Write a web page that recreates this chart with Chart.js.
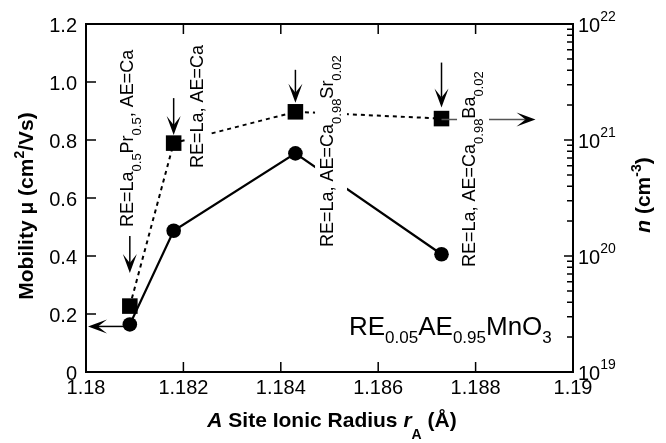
<!DOCTYPE html>
<html>
<head>
<meta charset="utf-8">
<script src="https://cdn.jsdelivr.net/npm/chart.js@4"></script>
<style>
  html, body { margin: 0; padding: 0; background: #fff; }
  #wrap { width: 666px; height: 443px; }
</style>
</head>
<body>
<div id="wrap"><canvas id="chart" width="666" height="443"></canvas></div>
<script>
// values
const radius = [1.1809, 1.1818, 1.1843, 1.1873];       // r_A (Å)
const mobility = [0.164, 0.487, 0.754, 0.406];         // cm2/Vs, left axis
const carriers = [3.7e19, 9.4e20, 1.75e21, 1.53e21];   // cm^-3, right axis (log)

// tick labels
const xTicks = [1.18, 1.182, 1.184, 1.186, 1.188, 1.19];
const xTickLabels = ['1.18', '1.182', '1.184', '1.186', '1.188', '1.19'];
const muTicks = [0, 0.2, 0.4, 0.6, 0.8, 1.0, 1.2];
const muTickLabels = ['0', '0.2', '0.4', '0.6', '0.8', '1.0', '1.2'];
const nDecades = [19, 20, 21, 22];

const FONT = '"Liberation Sans", Arial, Helvetica, sans-serif';

// text with sub/superscripts, optionally rotated, optionally on a white box
function drawRich(ctx, runs, x, y, o) {
  const fontOf = r => (r.s || o.style || '') + ' ' + (r.k ? o.small : o.size) + 'px ' + FONT;
  ctx.save();
  ctx.translate(x, y);
  if (o.rot) ctx.rotate(o.rot);
  ctx.textAlign = 'left';
  ctx.textBaseline = 'alphabetic';
  let w = 0;
  runs.forEach(r => { ctx.font = fontOf(r); w += ctx.measureText(r.t).width; });
  let cx = o.align === 'center' ? -w / 2 : (o.align === 'right' ? -w : 0);
  if (o.bg) {
    const top = o.size * 0.72 + 5;
    const bottom = runs.some(r => r.k === 'sub') ? o.sub + 6 : 7;
    ctx.fillStyle = '#fff';
    ctx.fillRect(cx - 3, -top, w + 6, top + bottom);
    ctx.fillStyle = '#000';
  }
  runs.forEach(r => {
    ctx.font = fontOf(r);
    const dy = r.k === 'sub' ? o.sub : (r.k === 'sup' ? -o.sup : 0);
    ctx.fillText(r.t, cx, dy);
    cx += ctx.measureText(r.t).width;
  });
  ctx.restore();
}

function arrow(ctx, x1, y1, x2, y2, lineColor) {
  const ang = Math.atan2(y2 - y1, x2 - x1);
  const c = Math.cos(ang), s = Math.sin(ang);
  const L = 19, W = 7, N = 10;
  ctx.save();
  ctx.strokeStyle = lineColor || '#000';
  ctx.lineWidth = 1.5;
  ctx.beginPath();
  ctx.moveTo(x1, y1);
  ctx.lineTo(x2 - c * N, y2 - s * N);
  ctx.stroke();
  ctx.fillStyle = '#000';
  ctx.beginPath();
  ctx.moveTo(x2, y2);
  ctx.lineTo(x2 - c * L - s * W, y2 - s * L + c * W);
  ctx.lineTo(x2 - c * N, y2 - s * N);
  ctx.lineTo(x2 - c * L + s * W, y2 - s * L - c * W);
  ctx.closePath();
  ctx.fill();
  ctx.restore();
}

// arrows pointing at the squares (pixel offsets above each point)
const downArrows = [
  { i: 0, tail: 70, tip: 33 },
  { i: 1, tail: 45, tip: 8 },
  { i: 2, tail: 42, tip: 9 },
  { i: 3, tail: 56, tip: 11 }
];

const sub = (t) => ({ t: t, k: 'sub' });
const sup = (t) => ({ t: t, k: 'sup' });
const labels = [
  { x: 133, y: 227, runs: [{ t: 'RE=La' }, sub('0.5'), { t: 'Pr' }, sub('0.5'), { t: ', AE=Ca' }] },
  { x: 203, y: 168, runs: [{ t: 'RE=La, AE=Ca' }] },
  { x: 333, y: 247, runs: [{ t: 'RE=La, AE=Ca' }, sub('0.98'), { t: 'Sr' }, sub('0.02')] },
  { x: 475, y: 267, runs: [{ t: 'RE=La, AE=Ca' }, sub('0.98'), { t: 'Ba' }, sub('0.02')] }
];

const decorations = {
  id: 'decorations',
  afterDatasetsDraw(chart) {
    const { ctx, chartArea: a, scales } = chart;
    const sx = scales.x, yl = scales.y, yr = scales.y1;
    const nMeta = chart.getDatasetMeta(1).data;
    const mMeta = chart.getDatasetMeta(0).data;
    ctx.save();
    ctx.strokeStyle = '#000';
    ctx.fillStyle = '#000';

    // right arrow: carrier density -> right axis (label box breaks it)
    const p4 = nMeta[3];
    arrow(ctx, p4.x, p4.y + 1, p4.x + 94, p4.y + 1, '#555');

    // rotated sample labels on white boxes
    labels.forEach(l => drawRich(ctx, l.runs, l.x, l.y,
      { size: 18, small: 13, sub: 8, rot: -Math.PI / 2, bg: true }));

    // frame
    ctx.lineWidth = 2;
    ctx.strokeRect(a.left, a.top, a.right - a.left, a.bottom - a.top);

    // inward ticks
    ctx.lineWidth = 1.5;
    ctx.beginPath();
    xTicks.forEach(v => {
      const px = sx.getPixelForValue(v);
      ctx.moveTo(px, a.bottom); ctx.lineTo(px, a.bottom - 10);
      ctx.moveTo(px, a.top); ctx.lineTo(px, a.top + 10);
    });
    muTicks.forEach(v => {
      const py = yl.getPixelForValue(v);
      ctx.moveTo(a.left, py); ctx.lineTo(a.left + 10, py);
    });
    nDecades.forEach((d, i) => {
      const py = yr.getPixelForValue(Math.pow(10, d));
      ctx.moveTo(a.right, py); ctx.lineTo(a.right - 9, py);
      if (i < nDecades.length - 1) {
        for (let k = 2; k <= 9; k++) {
          const pm = yr.getPixelForValue(k * Math.pow(10, d));
          ctx.moveTo(a.right, pm); ctx.lineTo(a.right - 6, pm);
        }
      }
    });
    ctx.stroke();

    // tick labels
    ctx.font = '20px ' + FONT;
    ctx.textBaseline = 'alphabetic';
    ctx.textAlign = 'center';
    xTicks.forEach((v, i) => ctx.fillText(xTickLabels[i], sx.getPixelForValue(v), a.bottom + 22));
    ctx.textAlign = 'right';
    muTicks.forEach((v, i) => ctx.fillText(muTickLabels[i], a.left - 9, yl.getPixelForValue(v) + 7.5));
    nDecades.forEach(d => {
      drawRich(ctx, [{ t: '10' }, sup(String(d))], a.right + 5, yr.getPixelForValue(Math.pow(10, d)) + 8,
        { size: 20, small: 14, sup: 11 });
    });

    // axis titles
    drawRich(ctx, [{ t: 'Mobility μ (cm' }, sup('2'), { t: '/Vs)' }], 33, 206,
      { size: 21, small: 14, sup: 9, style: 'bold', rot: -Math.PI / 2, align: 'center' });
    drawRich(ctx, [{ t: 'n', s: 'italic bold' }, { t: ' (cm' }, sup('-3'), { t: ')' }], 650, 195,
      { size: 21, small: 14, sup: 9, style: 'bold', rot: -Math.PI / 2, align: 'center' });
    drawRich(ctx, [{ t: 'A', s: 'italic bold' }, { t: ' Site Ionic Radius ' }, { t: 'r', s: 'italic bold' },
      sub('A'), { t: ' (Å)' }], 332, 427,
      { size: 21, small: 14, sub: 12, style: 'bold', align: 'center' });

    // compound label
    drawRich(ctx, [{ t: 'RE' }, sub('0.05'), { t: 'AE' }, sub('0.95'), { t: 'MnO' }, sub('3')], 349, 335,
      { size: 26, small: 17, sub: 8 });

    // arrows onto the squares and toward the left axis
    downArrows.forEach(d => {
      const p = nMeta[d.i];
      arrow(ctx, p.x, p.y - d.tail, p.x, p.y - d.tip);
    });
    arrow(ctx, mMeta[0].x, mMeta[0].y + 2, a.left + 2, mMeta[0].y + 2);

    ctx.restore();
  }
};

new Chart(document.getElementById('chart').getContext('2d'), {
  type: 'scatter',
  data: {
    datasets: [{
      label: 'Mobility',
      data: radius.map((r, i) => ({ x: r, y: mobility[i] })),
      yAxisID: 'y',
      showLine: true,
      borderColor: '#000',
      backgroundColor: '#000',
      borderWidth: 2.2,
      pointStyle: 'circle',
      pointRadius: 7.3,
      pointBorderWidth: 0
    }, {
      label: 'n',
      data: radius.map((r, i) => ({ x: r, y: carriers[i] })),
      yAxisID: 'y1',
      showLine: true,
      borderColor: '#000',
      backgroundColor: '#000',
      borderWidth: 2,
      borderDash: [4, 4],
      pointStyle: 'rect',
      pointRadius: 11,
      pointBorderWidth: 0
    }]
  },
  options: {
    responsive: false,
    animation: false,
    layout: { padding: { left: 86, top: 24, right: 93, bottom: 71 }, autoPadding: false },
    plugins: { legend: { display: false }, tooltip: { enabled: false } },
    scales: {
      x: { type: 'linear', min: 1.18, max: 1.19, display: false },
      y: { type: 'linear', position: 'left', min: 0, max: 1.2, display: false },
      y1: { type: 'logarithmic', position: 'right', min: 1e19, max: 1e22, display: false }
    }
  },
  plugins: [decorations]
});
</script>
</body>
</html>
